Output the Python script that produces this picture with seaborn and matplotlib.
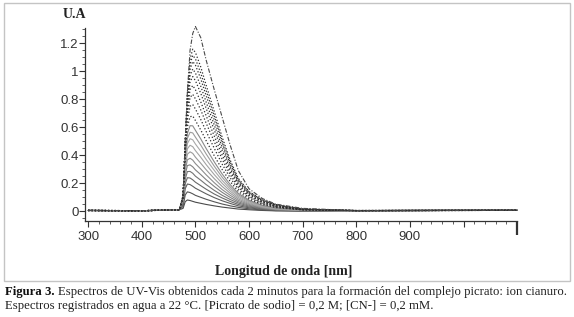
import matplotlib
matplotlib.use("Agg")
import matplotlib.pyplot as plt
from matplotlib.patches import Rectangle
from matplotlib.ticker import MultipleLocator
import pandas as pd
import seaborn as sns

# -----------------------------
# Data
# -----------------------------
# flat baseline on both sides of the band
baseline_left_nm = [300, 400, 470]
baseline_left_ua = [0.005, 0.003, 0.010]
baseline_right_nm = [800, 1100]
baseline_right_ua = [0.004, 0.006]

# wavelengths across the absorption band
band_nm = [477, 481, 485, 490, 495, 500, 510, 520, 535, 550, 565, 580, 600, 625, 650, 700]

# early scans (solid grey lines)
scans_solid = [
    [0.020, 0.068, 0.080, 0.076, 0.070, 0.064, 0.056, 0.048, 0.038, 0.029, 0.022, 0.015, 0.010, 0.005, 0.002, 0.001],
    [0.034, 0.116, 0.138, 0.133, 0.124, 0.113, 0.099, 0.085, 0.067, 0.051, 0.038, 0.027, 0.017, 0.008, 0.004, 0.001],
    [0.046, 0.161, 0.194, 0.190, 0.178, 0.164, 0.144, 0.124, 0.097, 0.074, 0.055, 0.038, 0.024, 0.012, 0.006, 0.002],
    [0.056, 0.196, 0.239, 0.237, 0.224, 0.207, 0.182, 0.157, 0.123, 0.094, 0.069, 0.048, 0.030, 0.016, 0.008, 0.003],
    [0.065, 0.229, 0.283, 0.284, 0.271, 0.250, 0.221, 0.190, 0.149, 0.113, 0.083, 0.058, 0.036, 0.019, 0.010, 0.003],
    [0.073, 0.260, 0.326, 0.331, 0.317, 0.295, 0.261, 0.225, 0.177, 0.134, 0.098, 0.067, 0.042, 0.022, 0.011, 0.004],
    [0.080, 0.290, 0.367, 0.378, 0.365, 0.340, 0.301, 0.260, 0.204, 0.154, 0.113, 0.077, 0.048, 0.025, 0.013, 0.004],
    [0.086, 0.317, 0.407, 0.424, 0.413, 0.386, 0.342, 0.296, 0.233, 0.176, 0.128, 0.087, 0.054, 0.028, 0.015, 0.005],
    [0.093, 0.342, 0.446, 0.471, 0.461, 0.433, 0.385, 0.333, 0.262, 0.198, 0.143, 0.097, 0.060, 0.032, 0.017, 0.006],
    [0.097, 0.366, 0.483, 0.518, 0.510, 0.480, 0.428, 0.370, 0.292, 0.219, 0.158, 0.107, 0.066, 0.035, 0.019, 0.006],
    [0.101, 0.387, 0.520, 0.564, 0.559, 0.529, 0.472, 0.409, 0.322, 0.242, 0.173, 0.117, 0.072, 0.039, 0.021, 0.007],
    [0.105, 0.406, 0.555, 0.611, 0.610, 0.578, 0.516, 0.448, 0.353, 0.265, 0.189, 0.127, 0.078, 0.042, 0.023, 0.008],
]
solid_colors = ["#4a4a4a", "#555555", "#5e5e5e", "#686868", "#747474", "#808080",
                "#8c8c8c", "#999999", "#a3a3a3", "#a8a8a8", "#9c9c9c", "#8a8a8a"]

# later scans (dotted dark lines)
scans_dotted = [
    [0.108, 0.431, 0.602, 0.675, 0.680, 0.648, 0.580, 0.504, 0.397, 0.297, 0.211, 0.141, 0.086, 0.048, 0.026, 0.009],
    [0.110, 0.453, 0.652, 0.750, 0.762, 0.730, 0.655, 0.570, 0.450, 0.335, 0.237, 0.158, 0.096, 0.054, 0.030, 0.010],
    [0.110, 0.468, 0.693, 0.813, 0.835, 0.803, 0.723, 0.629, 0.498, 0.370, 0.260, 0.171, 0.104, 0.058, 0.032, 0.010],
    [0.109, 0.479, 0.727, 0.869, 0.898, 0.868, 0.781, 0.682, 0.538, 0.400, 0.280, 0.184, 0.112, 0.063, 0.035, 0.011],
    [0.107, 0.486, 0.758, 0.924, 0.962, 0.933, 0.842, 0.735, 0.581, 0.431, 0.300, 0.196, 0.119, 0.067, 0.038, 0.013],
    [0.104, 0.490, 0.783, 0.969, 1.016, 0.988, 0.893, 0.780, 0.617, 0.457, 0.317, 0.207, 0.125, 0.072, 0.041, 0.014],
    [0.100, 0.492, 0.807, 1.015, 1.070, 1.044, 0.945, 0.826, 0.654, 0.483, 0.335, 0.217, 0.131, 0.075, 0.043, 0.014],
    [0.097, 0.493, 0.825, 1.052, 1.114, 1.089, 0.986, 0.863, 0.684, 0.505, 0.349, 0.226, 0.136, 0.079, 0.045, 0.015],
    [0.094, 0.491, 0.842, 1.088, 1.158, 1.135, 1.030, 0.901, 0.714, 0.527, 0.363, 0.234, 0.140, 0.082, 0.047, 0.015],
]

# last scan (dash-dot)
scan_final = [0.100, 0.500, 0.850, 1.150, 1.270, 1.320, 1.240, 1.080, 0.870, 0.670, 0.470, 0.290, 0.160, 0.090, 0.050, 0.020]

x_ticks = [300, 400, 500, 600, 700, 800, 900, 1000, 1100]
x_tick_labels = ["300", "400", "500", "600", "700", "800", "900", "", ""]
y_ticks = [0, 0.2, 0.4, 0.6, 0.8, 1.0, 1.2]
y_tick_labels = ["0", "0.2", "0.4", "0.6", "0.8", "1", "1.2"]

# -----------------------------
# Long-form table
# -----------------------------
nm_full = baseline_left_nm + band_nm + baseline_right_nm
rows = []
all_scans = ([("solid", s) for s in scans_solid] + [("dotted", s) for s in scans_dotted]
             + [("final", scan_final)])
for i, (kind, scan) in enumerate(all_scans):
    ua_full = baseline_left_ua + scan + baseline_right_ua
    for nm, ua in zip(nm_full, ua_full):
        rows.append({"scan": i, "kind": kind, "nm": nm, "ua": ua})
df = pd.DataFrame(rows)

# -----------------------------
# Plot
# -----------------------------
sns.set_style("ticks")
plt.rcParams["font.family"] = ["Liberation Sans", "DejaVu Sans"]

fig = plt.figure(figsize=(5.74, 3.17), dpi=100)
ax = fig.add_axes([0.148, 0.303, 0.753, 0.609])

for i, grp in df.groupby("scan"):
    kind = grp["kind"].iloc[0]
    if kind == "solid":
        sns.lineplot(data=grp, x="nm", y="ua", ax=ax, color=solid_colors[i], lw=0.8,
                     estimator=None, sort=False, legend=False)
    elif kind == "dotted":
        sns.lineplot(data=grp, x="nm", y="ua", ax=ax, color="#2e2e2e", lw=0.9,
                     linestyle=":", estimator=None, sort=False, legend=False)
    else:
        sns.lineplot(data=grp, x="nm", y="ua", ax=ax, color="#4a4a4a", lw=0.8,
                     linestyle=(0, (4, 1.5, 1, 1.5)), estimator=None, sort=False,
                     legend=False)
for line in ax.lines:
    line.set_clip_on(False)

ax.set_xlim(294, 1100)
ax.set_ylim(-0.07, 1.31)
sns.despine(ax=ax)
for side in ["left", "bottom"]:
    ax.spines[side].set_color("#333333")
    ax.spines[side].set_linewidth(0.9)

ax.set_xticks(x_ticks)
ax.set_xticklabels(x_tick_labels)
ax.set_yticks(y_ticks)
ax.set_yticklabels(y_tick_labels)
ax.xaxis.set_minor_locator(MultipleLocator(20))
ax.yaxis.set_minor_locator(MultipleLocator(0.05))
ax.tick_params(axis="both", which="major", length=4, width=0.8, color="#333333",
               labelsize=9.5, labelcolor="#333333")
ax.tick_params(axis="both", which="minor", length=2.5, width=0.6, color="#444444")
ax.tick_params(axis="x", which="major", pad=3)
ax.tick_params(axis="y", which="major", pad=0.5)
end_tick = ax.xaxis.get_major_ticks()[-1]
end_tick.tick1line.set_markersize(10)
end_tick.tick1line.set_markeredgewidth(1.6)
ax.set_xlabel("")
ax.set_ylabel("")

# axis titles
fig.text(63 / 574, 1 - 15 / 317, "U.A", family=["Liberation Serif", "DejaVu Serif"],
         fontweight="bold", fontsize=10, ha="left", va="center", color="#222222")
fig.text(284 / 574, 1 - 271 / 317, "Longitud de onda [nm]",
         family=["Liberation Serif", "DejaVu Serif"], fontweight="bold", fontsize=10,
         ha="center", va="center", color="#222222")

# frame around the figure panel
fig.patches.append(Rectangle((4 / 574, 1 - 281 / 317), 566 / 574, 278 / 317,
                             transform=fig.transFigure, fill=False,
                             ec="#c4c4c4", lw=1.0))

# caption
serif = ["Liberation Serif", "DejaVu Serif"]
cap_size = 9.2
t1 = fig.text(5 / 574, 1 - 292 / 317, "Figura 3.", family=serif, fontweight="bold",
              fontsize=cap_size, ha="left", va="center", color="#111111")
fig.canvas.draw()
bb = t1.get_window_extent()
x_after = (bb.x1 + 3) / fig.bbox.width
fig.text(x_after, 1 - 292 / 317,
         "Espectros de UV-Vis obtenidos cada 2 minutos para la formación del complejo picrato: ion cianuro.",
         family=serif, fontsize=cap_size, ha="left", va="center", color="#222222")
fig.text(5 / 574, 1 - 306 / 317,
         "Espectros registrados en agua a 22 °C. [Picrato de sodio] = 0,2 M; [CN-] = 0,2 mM.",
         family=serif, fontsize=cap_size, ha="left", va="center", color="#222222")

fig.savefig("out.png", dpi=100)
plt.close(fig)
